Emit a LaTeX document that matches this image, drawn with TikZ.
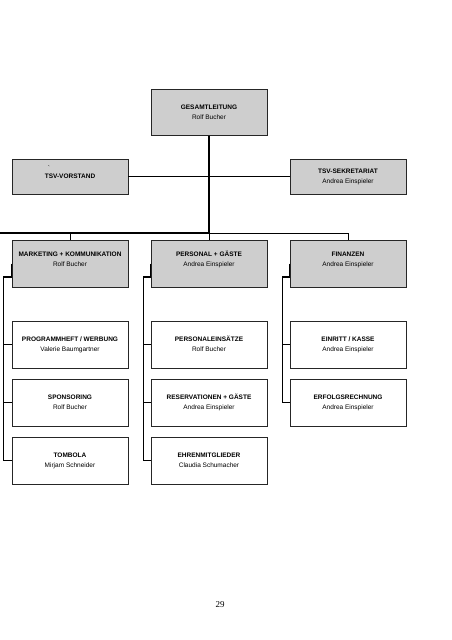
\documentclass[tikz,border=0pt]{standalone}
\usepackage{fontspec}
\setmainfont{Liberation Sans}
\newfontfamily\pagefont{Liberation Serif}
\definecolor{boxgray}{RGB}{206,206,206}
\newcommand\boxtext[2]{\strut\textbf{#1}\\\strut #2}
\begin{document}
\begin{tikzpicture}[x=1pt,y=-1pt,
  box/.style={draw=black!85, line width=0.9pt, minimum width=116pt, minimum height=47pt, inner sep=0pt, anchor=center},
  head/.style={box, fill=boxgray},
  txt/.style={align=center, font=\fontsize{6.5}{10}\selectfont, inner sep=0pt},
  trunk/.style={line width=1.6pt, black},
  thinline/.style={line width=0.8pt, black},
  brace/.style={line width=1.1pt, black}
]
\fill[white] (0,0) rectangle (451,640);
\useasboundingbox (0,0) rectangle (451,640);

% top level
\node[head, minimum height=46pt, label={[txt]center:{\boxtext{GESAMTLEITUNG}{Rolf Bucher}}}] (g) at (209,112.3) {};
\node[head, minimum height=35pt,
      label={[txt]center:{\strut\textbf{TSV-VORSTAND}}},
      label={[txt, xshift=-21pt, yshift=8pt]center:{\textasciigrave}}] (v) at (70,176.5) {};
\node[head, minimum height=35pt, label={[txt]center:{\boxtext{TSV-SEKRETARIAT}{Andrea Einspieler}}}] (s) at (348,176.5) {};

% departments
\node[head, label={[txt, yshift=4.5pt]center:{\boxtext{MARKETING + KOMMUNIKATION}{Rolf Bucher}}}] (m) at (70,263.5) {};
\node[head, label={[txt, yshift=4.5pt]center:{\boxtext{PERSONAL + GÄSTE}{Andrea Einspieler}}}] (p) at (209,263.5) {};
\node[head, label={[txt, yshift=4.5pt]center:{\boxtext{FINANZEN}{Andrea Einspieler}}}] (f) at (348,263.5) {};

% column 1
\node[box, label={[txt]center:{\boxtext{PROGRAMMHEFT / WERBUNG}{Valerie Baumgartner}}}] (m1) at (70,344.5) {};
\node[box, label={[txt]center:{\boxtext{SPONSORING}{Rolf Bucher}}}] (m2) at (70,402.5) {};
\node[box, label={[txt]center:{\boxtext{TOMBOLA}{Mirjam Schneider}}}] (m3) at (70,460.5) {};
% column 2
\node[box, label={[txt]center:{\boxtext{PERSONALEINSÄTZE}{Rolf Bucher}}}] (p1) at (209,344.5) {};
\node[box, label={[txt]center:{\boxtext{RESERVATIONEN + GÄSTE}{Andrea Einspieler}}}] (p2) at (209,402.5) {};
\node[box, label={[txt]center:{\boxtext{EHRENMITGLIEDER}{Claudia Schumacher}}}] (p3) at (209,460.5) {};
% column 3
\node[box, label={[txt]center:{\boxtext{EINRITT / KASSE}{Andrea Einspieler}}}] (f1) at (348,344.5) {};
\node[box, label={[txt]center:{\boxtext{ERFOLGSRECHNUNG}{Andrea Einspieler}}}] (f2) at (348,402.5) {};

% connectors
\coordinate (hub) at (209,233);
\coordinate (leftend) at (0,233);
\coordinate (rightend) at (348,233);
\draw[trunk] (g.south) -- (hub);
\draw[trunk] (hub) -- (leftend);
\draw[thinline] (v.east) -- (s.west);
\draw[thinline] (hub) -- (rightend);
\draw[thinline] (m.north) -- (m.north |- hub);
\draw[thinline] (p.north) -- (hub);
\draw[thinline] (f.north) -- (rightend);

\draw[brace] (m.west) -- ++(0,13.5) -- ++(-8,0) |- (m3.west);
\draw[brace] (m1.west) -- ++(-8,0);
\draw[brace] (m2.west) -- ++(-8,0);

\draw[brace] (p.west) -- ++(0,13.5) -- ++(-7,0) |- (p3.west);
\draw[brace] (p1.west) -- ++(-7,0);
\draw[brace] (p2.west) -- ++(-7,0);

\draw[brace] (f.west) -- ++(0,13.5) -- ++(-7,0) |- (f2.west);
\draw[brace] (f1.west) -- ++(-7,0);

\node[font=\pagefont\fontsize{9}{11}\selectfont, inner sep=0pt] (pg) at (220,605) {29};
\end{tikzpicture}
\end{document}
